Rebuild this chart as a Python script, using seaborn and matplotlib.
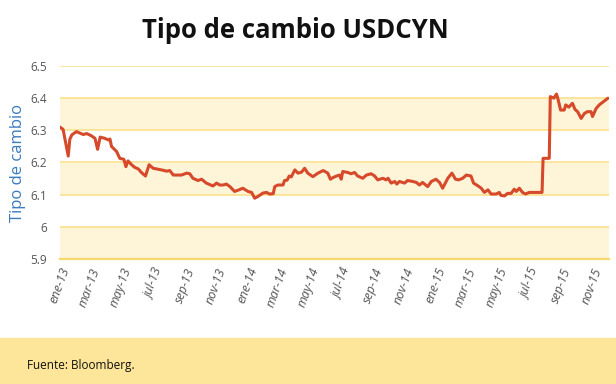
import matplotlib
matplotlib.use("Agg")
import matplotlib.pyplot as plt
import matplotlib.dates as mdates
import seaborn as sns
import pandas as pd

dates = [
    "2013-01-01", "2013-01-07", "2013-01-11", "2013-01-17", "2013-01-20", "2013-01-24",
    "2013-02-02", "2013-02-09", "2013-02-15", "2013-02-22", "2013-03-03", "2013-03-10",
    "2013-03-15", "2013-03-20", "2013-03-29", "2013-04-05", "2013-04-08", "2013-04-11",
    "2013-04-21", "2013-04-27", "2013-05-05", "2013-05-09", "2013-05-13", "2013-05-20",
    "2013-05-26", "2013-06-02", "2013-06-08", "2013-06-16", "2013-06-23", "2013-07-01",
    "2013-07-14", "2013-07-20", "2013-07-27", "2013-08-02", "2013-08-09", "2013-08-25",
    "2013-09-04", "2013-09-10", "2013-09-16", "2013-09-26", "2013-10-03", "2013-10-12",
    "2013-10-25", "2013-11-01", "2013-11-07", "2013-11-14", "2013-11-20", "2013-11-27",
    "2013-12-06", "2013-12-13", "2013-12-22", "2014-01-01", "2014-01-08", "2014-01-14",
    "2014-01-21", "2014-01-30", "2014-02-06", "2014-02-12", "2014-02-19", "2014-02-22",
    "2014-02-28", "2014-03-10", "2014-03-13", "2014-03-18", "2014-03-22", "2014-03-26",
    "2014-04-02", "2014-04-08", "2014-04-15", "2014-04-21", "2014-04-27", "2014-05-07",
    "2014-05-17", "2014-05-27", "2014-06-05", "2014-06-10", "2014-06-15", "2014-06-22",
    "2014-06-28", "2014-07-01", "2014-07-04", "2014-07-14", "2014-07-20", "2014-07-27",
    "2014-08-02", "2014-08-12", "2014-08-19", "2014-08-28", "2014-09-04", "2014-09-10",
    "2014-09-20", "2014-09-26", "2014-09-30", "2014-10-06", "2014-10-13", "2014-10-17",
    "2014-10-22", "2014-11-01", "2014-11-07", "2014-11-17", "2014-11-24", "2014-11-30",
    "2014-12-06", "2014-12-16", "2014-12-23", "2015-01-01", "2015-01-08", "2015-01-14",
    "2015-01-24", "2015-02-01", "2015-02-08", "2015-02-14", "2015-02-22", "2015-03-01",
    "2015-03-10", "2015-03-15", "2015-03-23", "2015-03-30", "2015-04-05", "2015-04-12",
    "2015-04-18", "2015-04-28", "2015-05-04", "2015-05-07", "2015-05-14", "2015-05-20",
    "2015-05-27", "2015-06-02", "2015-06-06", "2015-06-12", "2015-06-18", "2015-06-24",
    "2015-07-01", "2015-07-26", "2015-07-28", "2015-08-09", "2015-08-11", "2015-08-18",
    "2015-08-23", "2015-08-26", "2015-08-31", "2015-09-07", "2015-09-10", "2015-09-16",
    "2015-09-23", "2015-09-28", "2015-10-03", "2015-10-10", "2015-10-16", "2015-10-22",
    "2015-10-29", "2015-11-01", "2015-11-08", "2015-11-14", "2015-11-22", "2015-12-01",
]
usdcny = [
    6.310, 6.303, 6.270, 6.220, 6.272, 6.286,
    6.296, 6.291, 6.287, 6.290, 6.283, 6.275,
    6.241, 6.279, 6.275, 6.270, 6.273, 6.250,
    6.234, 6.213, 6.210, 6.187, 6.205, 6.193,
    6.185, 6.180, 6.169, 6.158, 6.193, 6.182,
    6.178, 6.176, 6.173, 6.175, 6.161, 6.161,
    6.167, 6.165, 6.151, 6.144, 6.148, 6.136,
    6.127, 6.136, 6.130, 6.130, 6.133, 6.125,
    6.110, 6.114, 6.120, 6.110, 6.107, 6.089,
    6.095, 6.105, 6.107, 6.102, 6.103, 6.125,
    6.130, 6.130, 6.144, 6.145, 6.158, 6.155,
    6.177, 6.167, 6.170, 6.182, 6.167, 6.156,
    6.167, 6.175, 6.167, 6.148, 6.153, 6.158,
    6.161, 6.148, 6.172, 6.169, 6.165, 6.169,
    6.158, 6.151, 6.161, 6.165, 6.158, 6.146,
    6.151, 6.146, 6.151, 6.136, 6.141, 6.133,
    6.141, 6.136, 6.144, 6.141, 6.138, 6.130,
    6.138, 6.125, 6.141, 6.148, 6.138, 6.120,
    6.151, 6.167, 6.148, 6.146, 6.151, 6.161,
    6.158, 6.136, 6.128, 6.120, 6.107, 6.115,
    6.102, 6.102, 6.107, 6.098, 6.096, 6.104,
    6.104, 6.117, 6.110, 6.120, 6.107, 6.102,
    6.107, 6.107, 6.213, 6.213, 6.405, 6.400,
    6.413, 6.397, 6.363, 6.363, 6.379, 6.372,
    6.384, 6.365, 6.358, 6.337, 6.352, 6.358,
    6.358, 6.343, 6.368, 6.379, 6.389, 6.400,
]
y_ticks = [5.9, 6.0, 6.1, 6.2, 6.3, 6.4, 6.5]
y_tick_labels = ["5.9", "6", "6.1", "6.2", "6.3", "6.4", "6.5"]
month_abbr = ["ene", "feb", "mar", "abr", "may", "jun", "jul", "ago", "sep", "oct", "nov", "dic"]

df = pd.DataFrame({"fecha": pd.to_datetime(dates), "valor": usdcny})

sns.set_style("white")
plt.rcParams["font.family"] = ["Open Sans", "DejaVu Sans"]

fig = plt.figure(figsize=(6.16, 3.84), dpi=100)
ax = fig.add_axes([60 / 616, 1 - 259 / 384, 549 / 616, 193 / 384])

band = "#fef5d9"
grid = "#fbe08c"
for lo in (5.9, 6.1, 6.3):
    ax.axhspan(lo, lo + 0.1, color=band, lw=0, zorder=0)
for yv in y_ticks[1:]:
    ax.axhline(yv, color=grid, lw=1.2, zorder=1)

sns.lineplot(data=df, x="fecha", y="valor", ax=ax, color="#d6492a", lw=2.2, zorder=3)

ax.set_ylim(5.9, 6.5)
ax.set_xlim(pd.Timestamp("2013-01-01"), pd.Timestamp("2015-12-03"))
ax.set_yticks(y_ticks)
ax.set_yticklabels(y_tick_labels)

ax.xaxis.set_major_locator(mdates.MonthLocator(bymonth=[1, 3, 5, 7, 9, 11]))
ax.xaxis.set_major_formatter(plt.FuncFormatter(
    lambda v, p: f"{month_abbr[mdates.num2date(v).month - 1]}-{mdates.num2date(v).year % 100:02d}"))

for s in ("top", "right", "left"):
    ax.spines[s].set_visible(False)
ax.spines["bottom"].set_color("#f8d96e")
ax.spines["bottom"].set_linewidth(1.6)
ax.tick_params(axis="x", colors="#f8d96e", length=3, width=1, labelcolor="#555555",
               labelsize=9, pad=2)
ax.tick_params(axis="y", length=0, labelcolor="#555555", labelsize=8.5, pad=9.5)
for lab in ax.get_xticklabels():
    lab.set_rotation(70)
    lab.set_ha("right")
    lab.set_rotation_mode("anchor")
    lab.set_fontstyle("italic")

ax.set_xlabel("")
ax.set_ylabel("Tipo de cambio", color="#3a7bbf", fontsize=12)
ax.yaxis.set_label_coords((26 - 60) / 549, 0.5)

fig.text(0.479, 1 - 31 / 384, "Tipo de cambio USDCYN", ha="center", va="center",
         fontsize=18.5, fontweight="bold", color="#111111")

fig.patches.append(plt.Rectangle((0, 0), 1, 46 / 384, transform=fig.transFigure,
                                 color="#fde699", zorder=0))
fig.text(27 / 616, 1 - 365 / 384, "Fuente: Bloomberg.", ha="left", va="center",
         fontsize=8.5, color="#111111")

fig.savefig("out.png", dpi=100)
